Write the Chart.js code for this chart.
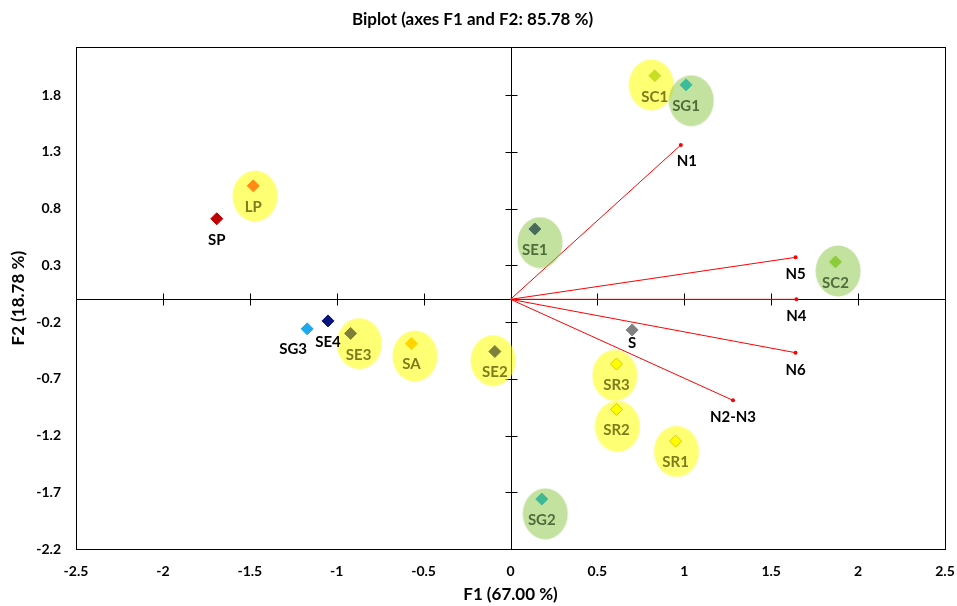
<!DOCTYPE html>
<html>
<head>
<meta charset="utf-8">
<title>Biplot</title>
<script src="https://cdn.jsdelivr.net/npm/chart.js@4/dist/chart.umd.min.js"></script>
<style>
  html, body { margin: 0; padding: 0; background: #fff; }
</style>
</head>
<body>
<canvas id="biplot" width="957" height="606"></canvas>
<script>
// observations (F1, F2)
const obsNames = ['SP', 'LP', 'SG3', 'SE4', 'SE3', 'SA', 'SE2', 'SE1', 'SC1', 'SG1', 'SC2', 'S', 'SR3', 'SR2', 'SR1', 'SG2'];
const obsF1 = [-1.69, -1.48, -1.17, -1.05, -0.92, -0.57, -0.09, 0.14, 0.83, 1.01, 1.87, 0.70, 0.61, 0.61, 0.95, 0.18];
const obsF2 = [0.71, 1.00, -0.26, -0.19, -0.30, -0.39, -0.46, 0.62, 1.97, 1.89, 0.33, -0.27, -0.57, -0.97, -1.25, -1.76];

// variables (loadings)
const varNames = ['N1', 'N5', 'N4', 'N6', 'N2-N3'];
const varF1 = [0.98, 1.64, 1.645, 1.64, 1.28];
const varF2 = [1.36, 0.37, 0.00, -0.47, -0.89];

// highlighted groups (ellipse centres)
const yellowNames = ['LP', 'SE3', 'SA', 'SE2', 'SC1', 'SR3', 'SR2', 'SR1'];
const yellowF1 = [-1.47, -0.87, -0.55, -0.10, 0.81, 0.60, 0.615, 0.955];
const yellowF2 = [0.91, -0.39, -0.50, -0.54, 1.89, -0.67, -1.12, -1.34];
const greenNames = ['SE1', 'SG1', 'SC2', 'SG2'];
const greenF1 = [0.17, 1.04, 1.885, 0.20];
const greenF2 = [0.50, 1.75, 0.25, -1.89];

const xTicks = [-2.5, -2, -1.5, -1, -0.5, 0, 0.5, 1, 1.5, 2, 2.5];
const yTicks = [-2.2, -1.7, -1.2, -0.7, -0.2, 0.3, 0.8, 1.3, 1.8];

// marker colours
const obsColors = {
    SP: '#c00000', LP: '#ff8a14', SG3: '#1ea8ee', SE4: '#0b1580', SE3: '#7f7f3c',
    SA: '#ffd400', SE2: '#7f7f3c', SE1: '#4a6b5c', SC1: '#c6de24', SG1: '#3cbc98',
    SC2: '#8ccc3a', S: '#808080', SR3: '#ffff00', SR2: '#ffff00', SR1: '#ffff00', SG2: '#3fb894'
};
const labelShift = { S: [0, 13], SG3: [-14, 20], SE3: [8, 22], N1: [6, 16] };

const FONT = 'Lato, "Open Sans", sans-serif';

function ellipseStyle(color) {
    const c = document.createElement('canvas');
    c.width = 46;
    c.height = 52;
    const g = c.getContext('2d');
    g.fillStyle = color;
    g.beginPath();
    g.ellipse(23, 26, 22.5, 25.5, 0, 0, Math.PI * 2);
    g.fill();
    return c;
}

const toPoints = (xs, ys) => xs.map((x, i) => ({ x: x, y: ys[i] }));

const datasets = [];
varNames.forEach((name, i) => {
    datasets.push({
        type: 'line',
        label: name,
        data: [{ x: 0, y: 0 }, { x: varF1[i], y: varF2[i] }],
        borderColor: '#ff0000',
        backgroundColor: '#ff0000',
        borderWidth: 1,
        pointRadius: [0, 2],
        pointBorderWidth: 0,
        order: 5
    });
});
datasets.push({
    label: 'yellow',
    data: toPoints(yellowF1, yellowF2),
    pointStyle: ellipseStyle('rgba(255,255,0,0.55)'),
    pointRadius: 1,
    order: 4
});
datasets.push({
    label: 'green',
    data: toPoints(greenF1, greenF2),
    pointStyle: ellipseStyle('rgba(146,200,80,0.55)'),
    pointRadius: 1,
    order: 3
});
datasets.push({
    label: 'obs',
    data: toPoints(obsF1, obsF2),
    pointStyle: 'rectRot',
    pointRadius: 6,
    pointBackgroundColor: obsNames.map(n => obsColors[n]),
    pointBorderColor: obsNames.map(n => n.startsWith('SR') ? '#d9c800' : obsColors[n]),
    pointBorderWidth: 1,
    order: 1
});

// frame, zero axes and their cross ticks
const crossAxes = {
    id: 'crossAxes',
    beforeDatasetsDraw(chart) {
        const { ctx, chartArea: a, scales: { x, y } } = chart;
        const x0 = Math.round(x.getPixelForValue(0)) + 0.5;
        const y0 = Math.round(y.getPixelForValue(0)) + 0.5;
        ctx.save();
        ctx.strokeStyle = '#000';
        ctx.lineWidth = 1;
        ctx.strokeRect(Math.round(a.left) + 0.5, Math.round(a.top) + 0.5, Math.round(a.width), Math.round(a.height));
        ctx.beginPath();
        ctx.moveTo(a.left, y0); ctx.lineTo(a.right, y0);
        ctx.moveTo(x0, a.top); ctx.lineTo(x0, a.bottom);
        xTicks.forEach(v => {
            const px = Math.round(x.getPixelForValue(v)) + 0.5;
            ctx.moveTo(px, y0 - 6); ctx.lineTo(px, y0 + 6);
        });
        yTicks.forEach(v => {
            const py = Math.round(y.getPixelForValue(v)) + 0.5;
            ctx.moveTo(x0 - 6, py); ctx.lineTo(x0 + 6, py);
        });
        ctx.stroke();
        ctx.restore();
    },
    afterDatasetsDraw(chart) {
        const ctx = chart.ctx;
        ctx.save();
        ctx.font = 'bold 15px ' + FONT;
        ctx.textAlign = 'center';
        ctx.textBaseline = 'middle';
        const obsMeta = chart.getDatasetMeta(datasets.length - 1);
        obsNames.forEach((name, i) => {
            const el = obsMeta.data[i];
            const s = labelShift[name] || [0, 21];
            if (yellowNames.includes(name)) ctx.fillStyle = '#7c7c1e';
            else if (greenNames.includes(name)) ctx.fillStyle = '#4d6d3b';
            else ctx.fillStyle = '#000';
            ctx.fillText(name, el.x + s[0], el.y + s[1]);
        });
        ctx.fillStyle = '#000';
        varNames.forEach((name, i) => {
            const el = chart.getDatasetMeta(i).data[1];
            const s = labelShift[name] || [0, 17];
            ctx.fillText(name, el.x + s[0], el.y + s[1]);
        });
        ctx.restore();
    }
};

new Chart(document.getElementById('biplot'), {
    type: 'scatter',
    data: { datasets: datasets },
    plugins: [crossAxes],
    options: {
        responsive: false,
        animation: false,
        devicePixelRatio: 1,
        layout: { padding: { left: 0, right: 12, top: 0, bottom: 0 } },
        plugins: {
            legend: { display: false },
            tooltip: { enabled: false },
            title: {
                display: true,
                text: 'Biplot (axes F1 and F2: 85.78 %)',
                color: '#000',
                font: { family: FONT, size: 17, weight: 'bold' },
                padding: { top: 9, bottom: 18 }
            }
        },
        scales: {
            x: {
                type: 'linear',
                min: -2.5,
                max: 2.5,
                afterBuildTicks: s => { s.ticks = xTicks.map(v => ({ value: v })); },
                afterFit: s => { s.height = 57; s.paddingLeft = 0; s.paddingRight = 0; },
                grid: { display: false, drawTicks: false },
                border: { display: false },
                ticks: {
                    color: '#000',
                    font: { family: FONT, size: 14, weight: 'bold' },
                    padding: 14,
                    autoSkip: false,
                    maxRotation: 0,
                    callback: v => String(Math.round(v * 10) / 10)
                },
                title: {
                    display: true,
                    text: 'F1 (67.00 %)',
                    color: '#000',
                    font: { family: FONT, size: 17, weight: 'bold' },
                    padding: { top: 0, bottom: 1 }
                }
            },
            y: {
                type: 'linear',
                min: -2.2,
                max: 2.22,
                afterBuildTicks: s => { s.ticks = yTicks.map(v => ({ value: v })); },
                afterFit: s => { s.width = 76; },
                grid: { display: false, drawTicks: false },
                border: { display: false },
                ticks: {
                    color: '#000',
                    font: { family: FONT, size: 14, weight: 'bold' },
                    padding: 15,
                    autoSkip: false,
                    callback: v => String(Math.round(v * 10) / 10)
                },
                title: {
                    display: true,
                    text: 'F2 (18.78 %)',
                    color: '#000',
                    font: { family: FONT, size: 17, weight: 'bold' },
                    padding: { top: 8, bottom: 0 }
                }
            }
        }
    }
});
</script>
</body>
</html>
